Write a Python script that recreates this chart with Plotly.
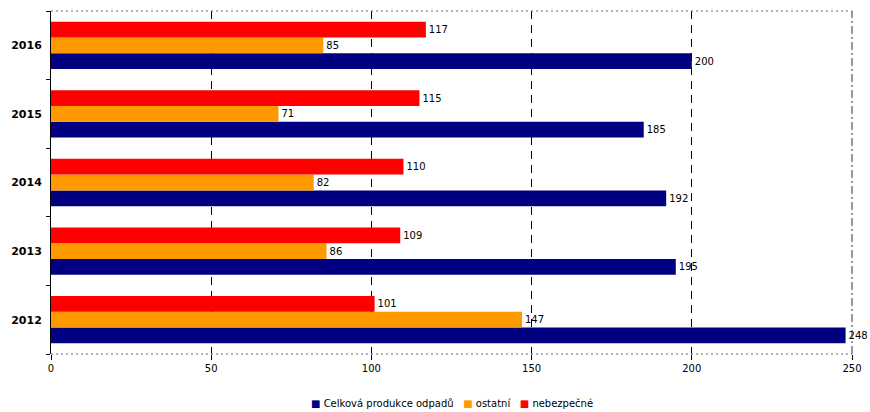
import plotly.graph_objects as go

# Waste production by year (thousand tonnes)
years = ["2012", "2013", "2014", "2015", "2016"]
celkova = [248, 195, 192, 185, 200]
ostatni = [147, 86, 82, 71, 85]
nebezpecne = [101, 109, 110, 115, 117]

series_names = ["Celková produkce odpadů", "ostatní", "nebezpečné"]
series_values = [celkova, ostatni, nebezpecne]
series_colors = ["#000080", "#FF9900", "#FF0000"]

font_family = "DejaVu Sans, Verdana, sans-serif"

fig = go.Figure()
for name, vals, col in zip(series_names, series_values, series_colors):
    fig.add_trace(go.Bar(
        y=years, x=vals, name=name, orientation="h",
        marker=dict(color=col, line=dict(width=0)),
        text=[str(v) for v in vals], textposition="outside",
        textfont=dict(family=font_family, size=10, color="#000000"),
        cliponaxis=False, showlegend=False,
    ))

# Compact legend line: coloured square followed by series name
legend_text = "&nbsp;&nbsp;&nbsp;".join(
    f"<span style='color:{c}'>■</span> {n}" for n, c in zip(series_names, series_colors)
)

fig.update_layout(
    width=870, height=412,
    margin=dict(l=51, r=18, t=11, b=58, autoexpand=False),
    paper_bgcolor="white", plot_bgcolor="white",
    barmode="group", bargap=0.31, bargroupgap=0,
    font=dict(family=font_family, size=10, color="#000000"),
    xaxis=dict(range=[0, 250], tickvals=[0, 50, 100, 150, 200, 250],
               showgrid=True, gridcolor="#000000", gridwidth=1, griddash="8px,6px",
               zeroline=False, showline=False, automargin=False,
               ticks="outside", ticklen=5, tickcolor="#000000",
               tickfont=dict(family=font_family, size=10)),
    yaxis=dict(type="category", categoryorder="array", categoryarray=years,
               showgrid=False, zeroline=False, automargin=False,
               showline=True, linecolor="#000000", linewidth=1,
               ticks="outside", ticklen=4, tickcolor="#000000", tickson="boundaries",
               tickfont=dict(family=font_family, size=11, color="#000000"),
               tickprefix="<b>", ticksuffix="</b>", ticklabelstandoff=6),
    annotations=[dict(text=legend_text, xref="paper", yref="paper",
                      x=0.5, y=-0.143, xanchor="center", yanchor="middle",
                      showarrow=False, font=dict(family=font_family, size=10))],
    shapes=[
        dict(type="line", xref="paper", yref="paper", x0=0, x1=1, y0=1, y1=1,
             line=dict(color="#666666", width=1, dash="2px,3px")),
        dict(type="line", xref="paper", yref="paper", x0=0, x1=1, y0=0, y1=0,
             line=dict(color="#666666", width=1, dash="2px,3px")),
        dict(type="line", xref="paper", yref="paper", x0=1, x1=1, y0=0, y1=1,
             line=dict(color="#333333", width=1, dash="8px,3px,2px,3px")),
    ],
)

fig.write_html("out.html")
